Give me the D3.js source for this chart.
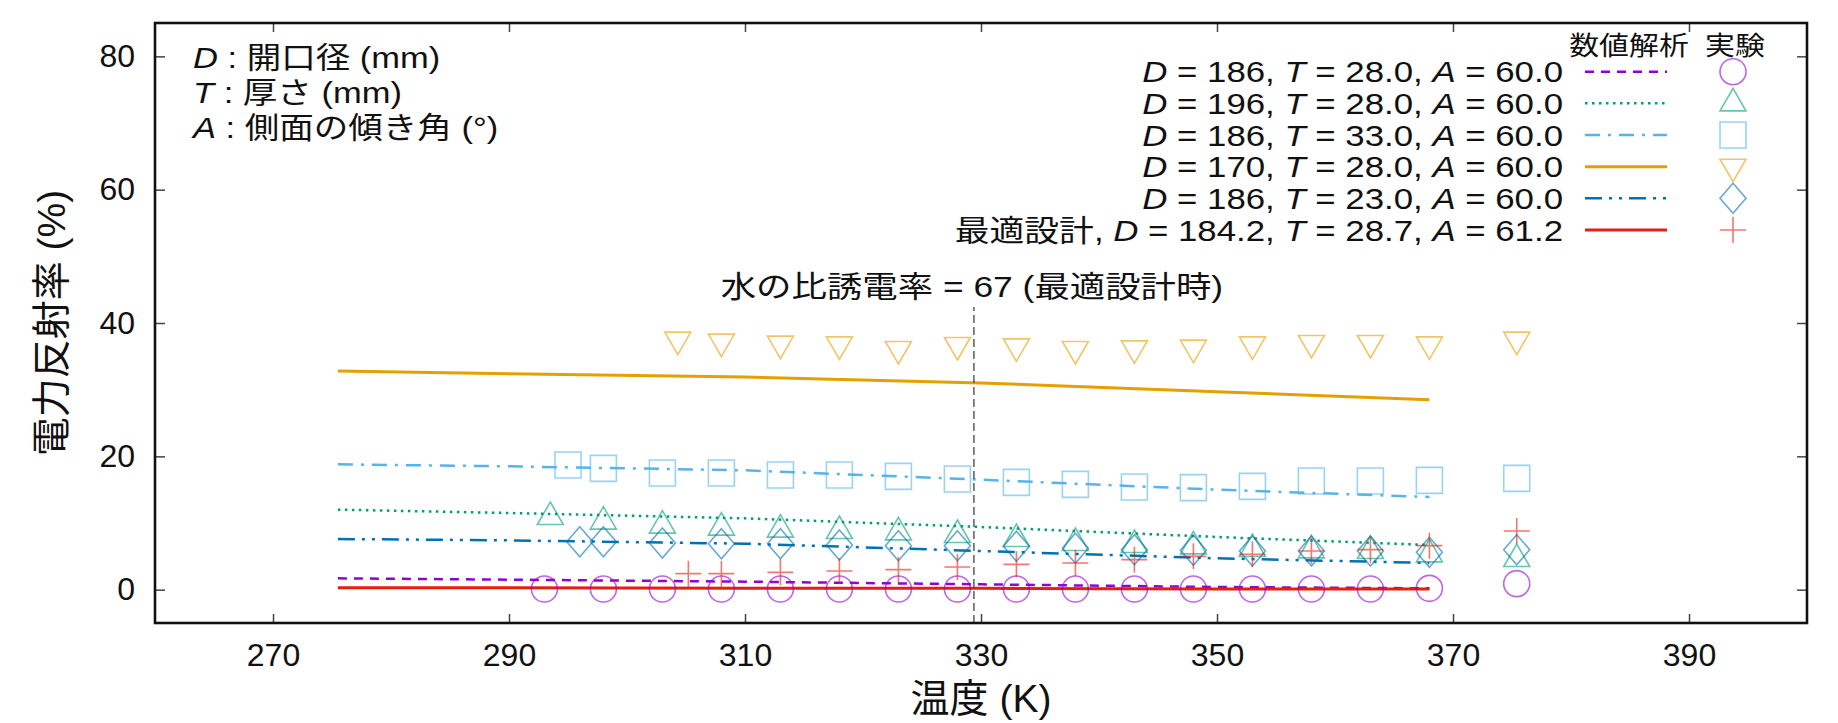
<!DOCTYPE html>
<html>
<head>
<meta charset="utf-8">
<script src="https://cdn.jsdelivr.net/npm/d3@7"></script>
<style>
    body { margin: 0; background: #fff; }
    svg text { font-family: "Liberation Sans", "Noto Sans CJK JP", sans-serif; fill: #111; }
</style>
</head>
<body>
<svg id="chart" width="1838" height="723"></svg>
<script>
// -- Data: numerical analysis (lines) --
const simTemps   = [275.5, 290, 310, 330, 350, 368];
const simD186T28 = [1.7, 1.5, 1.2, 0.8, 0.4, 0.2];
const simD196T28 = [12.0, 11.5, 10.7, 9.4, 7.9, 6.7];
const simD186T33 = [18.8, 18.5, 17.9, 16.5, 15.0, 13.9];
const simD170T28 = [32.8, 32.4, 31.9, 31.0, 29.7, 28.5];
const simD186T23 = [7.6, 7.4, 6.9, 5.8, 4.7, 4.0];
const simOptimal = [0.3, 0.3, 0.2, 0.2, 0.1, 0.1];

// -- Data: experiments (markers) --
const expTempsD186T28 = [293, 298, 303, 308, 313, 318, 323, 328, 333, 338, 343, 348, 353, 358, 363, 368, 375.4];
const expD186T28      = [0.1, 0.1, 0.1, 0.1, 0.1, 0.1, 0.1, 0.1, 0.1, 0.1, 0.1, 0.1, 0.1, 0.1, 0.1, 0.2, 0.9];
const expTempsD196T28 = [293.5, 298, 303, 308, 313, 318, 323, 328, 333, 338, 343, 348, 353, 358, 363, 368, 375.4];
const expD196T28      = [10.9, 10.2, 9.6, 9.3, 9.0, 8.8, 8.6, 8.2, 7.6, 7.0, 6.7, 6.5, 6.1, 5.9, 5.8, 5.3, 4.6];
const expTempsD186T33 = [295, 298, 303, 308, 313, 318, 323, 328, 333, 338, 343, 348, 353, 358, 363, 368, 375.4];
const expD186T33      = [18.7, 18.2, 17.5, 17.5, 17.2, 17.2, 17.0, 16.6, 16.1, 15.8, 15.4, 15.3, 15.5, 16.3, 16.3, 16.4, 16.7];
const expTempsD170T28 = [304.3, 308, 313, 318, 323, 328, 333, 338, 343, 348, 353, 358, 363, 368, 375.4];
const expD170T28      = [37.5, 37.2, 36.9, 36.8, 36.1, 36.7, 36.5, 36.1, 36.2, 36.3, 36.8, 37.0, 37.0, 36.8, 37.5];
const expTempsD186T23 = [296, 298, 303, 308, 313, 318, 323, 328, 333, 338, 343, 348, 353, 358, 363, 368, 375.4];
const expD186T23      = [7.2, 7.2, 7.0, 6.9, 6.9, 6.7, 6.6, 6.6, 6.5, 6.2, 6.0, 5.9, 5.8, 5.8, 5.8, 5.6, 6.0];
const expTempsOptimal = [305.2, 308, 313, 318, 323, 328, 333, 338, 343, 348, 353, 358, 363, 368, 375.4];
const expOptimal      = [2.4, 2.4, 2.6, 2.8, 3.0, 3.4, 3.8, 4.0, 4.5, 5.0, 5.3, 5.8, 6.0, 6.6, 8.8];

// -- Legend / tick labels --
const legendPrefix = ["", "", "", "", "", "最適設計, "];
const legendD = ["186", "196", "186", "170", "186", "184.2"];
const legendT = ["28.0", "28.0", "33.0", "28.0", "23.0", "28.7"];
const legendA = ["60.0", "60.0", "60.0", "60.0", "60.0", "61.2"];
const xTicks = [270, 290, 310, 330, 350, 370, 390];
const yTicks = [0, 20, 40, 60, 80];
const waterTemp = 329.4;     // 水の比誘電率 = 67
const waterLineTop = 42.4;

// -- Series setup --
const series = [
    { sim: simD186T28, expX: expTempsD186T28, expY: expD186T28, color: "#9400D3", dash: "9,7",          width: 2.5, marker: "circle" },
    { sim: simD196T28, expX: expTempsD196T28, expY: expD196T28, color: "#009E73", dash: "2.5,4.5",      width: 2.5, marker: "triangle" },
    { sim: simD186T33, expX: expTempsD186T33, expY: expD186T33, color: "#56B4E9", dash: "15,8,3,8",     width: 2.5, marker: "square" },
    { sim: simD170T28, expX: expTempsD170T28, expY: expD170T28, color: "#E69F00", dash: null,           width: 3,   marker: "triangleDown" },
    { sim: simD186T23, expX: expTempsD186T23, expY: expD186T23, color: "#0072B2", dash: "17,7,3,7,3,7", width: 2.5, marker: "diamond" },
    { sim: simOptimal, expX: expTempsOptimal, expY: expOptimal, color: "#E51E10", dash: null,           width: 3,   marker: "cross" }
];

const svg = d3.select("#chart");
const plot = { left: 155, right: 1807, top: 23, bottom: 623 };

const x = d3.scaleLinear().domain([260, 400]).range([plot.left, plot.right]);
const y = d3.scaleLinear().domain([-5, 85]).range([plot.bottom, plot.top]);

// Marker outline shapes, centred on the point.
function markerPath(type) {
    const r = 13;
    switch (type) {
        case "circle": return d3.symbol(d3.symbolCircle, Math.PI * r * r)();
        case "triangle": return `M0,-15L${r},7.5L${-r},7.5Z`;
        case "triangleDown": return `M0,15L${r},-7.5L${-r},-7.5Z`;
        case "square": return `M${-r},${-r}H${r}V${r}H${-r}Z`;
        case "diamond": return `M0,-15L${r},0L0,15L${-r},0Z`;
        case "cross": return `M${-r},0H${r}M0,${-r}V${r}`;
    }
}

function drawMarker(g, type, color) {
    g.append("path")
        .attr("d", markerPath(type))
        .attr("fill", "none")
        .attr("stroke", color)
        .attr("stroke-width", 1.6)
        .attr("stroke-opacity", 0.6);
}

// Stretched text helper (the picture's text is wide).
function stretchText(x0, y0, sx, size, anchor) {
    return svg.append("text")
        .attr("transform", `translate(${x0},${y0}) scale(${sx},1)`)
        .attr("text-anchor", anchor)
        .style("font-size", size + "px");
}

function addParts(text, parts) {
    parts.forEach(p => {
        text.append("tspan").text(p.t).style("font-style", p.i ? "italic" : "normal");
    });
}

// -- Axes --
svg.append("g")
    .attr("transform", `translate(0,${plot.bottom})`)
    .call(d3.axisBottom(x).tickValues(xTicks).tickSizeInner(-9).tickSizeOuter(0).tickPadding(20))
    .call(g => g.select(".domain").remove());

svg.append("g")
    .attr("transform", `translate(0,${plot.top})`)
    .call(d3.axisTop(x).tickValues(xTicks).tickSizeInner(-9).tickSizeOuter(0).tickFormat(""))
    .call(g => g.select(".domain").remove());

svg.append("g")
    .attr("transform", `translate(${plot.left},0)`)
    .call(d3.axisLeft(y).tickValues(yTicks).tickSizeInner(-10).tickSizeOuter(0).tickPadding(20))
    .call(g => g.select(".domain").remove());

svg.append("g")
    .attr("transform", `translate(${plot.right},0)`)
    .call(d3.axisRight(y).tickValues(yTicks).tickSizeInner(-10).tickSizeOuter(0).tickFormat(""))
    .call(g => g.select(".domain").remove());

svg.selectAll(".tick line").attr("stroke", "#444").attr("stroke-width", 1.5);
svg.selectAll(".tick text")
    .attr("font-family", null)
    .style("font-size", "32px")
    .attr("fill", "#111");

// -- Numerical analysis lines --
const line = d3.line().x(d => x(d[0])).y(d => y(d[1]));

series.forEach(s => {
    svg.append("path")
        .datum(simTemps.map((t, i) => [t, s.sim[i]]))
        .attr("d", line)
        .attr("fill", "none")
        .attr("stroke", s.color)
        .attr("stroke-width", s.width)
        .attr("stroke-dasharray", s.dash);
});

// -- Experiment markers --
series.forEach(s => {
    s.expX.forEach((t, i) => {
        const g = svg.append("g").attr("transform", `translate(${x(t)},${y(s.expY[i])})`);
        drawMarker(g, s.marker, s.color);
    });
});

// -- Water permittivity line and note --
svg.append("line")
    .attr("x1", x(waterTemp)).attr("x2", x(waterTemp))
    .attr("y1", y(-5)).attr("y2", y(waterLineTop))
    .attr("stroke", "#444")
    .attr("stroke-width", 1.3)
    .attr("stroke-dasharray", "8,4");

stretchText(x(waterTemp) - 2, 297, 1.2, 29.5, "middle").text("水の比誘電率 = 67 (最適設計時)");

// -- Frame --
svg.append("rect")
    .attr("x", plot.left).attr("y", plot.top)
    .attr("width", plot.right - plot.left).attr("height", plot.bottom - plot.top)
    .attr("fill", "none").attr("stroke", "#111").attr("stroke-width", 2.6);

// -- Axis titles --
svg.append("text")
    .attr("x", (plot.left + plot.right) / 2).attr("y", 712)
    .attr("text-anchor", "middle")
    .style("font-size", "39px")
    .text("温度 (K)");

svg.append("text")
    .attr("transform", `translate(51,${(plot.top + plot.bottom) / 2}) rotate(-90)`)
    .attr("text-anchor", "middle")
    .attr("dominant-baseline", "central")
    .style("font-size", "39px")
    .text("電力反射率 (%)");

// -- Parameter description (top left) --
const descRows = [
    { letter: "D", rest: " : 開口径 (mm)" },
    { letter: "T", rest: " : 厚さ (mm)" },
    { letter: "A", rest: " : 側面の傾き角 (°)" }
];
descRows.forEach((r, i) => {
    const t = stretchText(193, 68 + i * 35, 1.17, 29.5, "start");
    addParts(t, [{ t: r.letter, i: true }, { t: r.rest }]);
});

// -- Legend --
const legendTextRight = 1563, sampleX1 = 1585, sampleX2 = 1667, markerX = 1733;
const rowY0 = 71.7, rowStep = 31.66;

stretchText(1629, 55, 1.15, 26, "middle").text("数値解析");
stretchText(markerX + 2, 55, 1.15, 26, "middle").text("実験");

series.forEach((s, i) => {
    const cy = rowY0 + i * rowStep;
    const t = stretchText(legendTextRight, cy + 10.5, 1.18, 29.5, "end");
    addParts(t, [
        { t: legendPrefix[i] },
        { t: "D", i: true }, { t: " = " + legendD[i] + ", " },
        { t: "T", i: true }, { t: " = " + legendT[i] + ", " },
        { t: "A", i: true }, { t: " = " + legendA[i] }
    ]);

    svg.append("line")
        .attr("x1", sampleX1).attr("x2", sampleX2)
        .attr("y1", cy).attr("y2", cy)
        .attr("stroke", s.color)
        .attr("stroke-width", s.width)
        .attr("stroke-dasharray", s.dash);

    drawMarker(svg.append("g").attr("transform", `translate(${markerX},${cy})`), s.marker, s.color);
});
</script>
</body>
</html>
